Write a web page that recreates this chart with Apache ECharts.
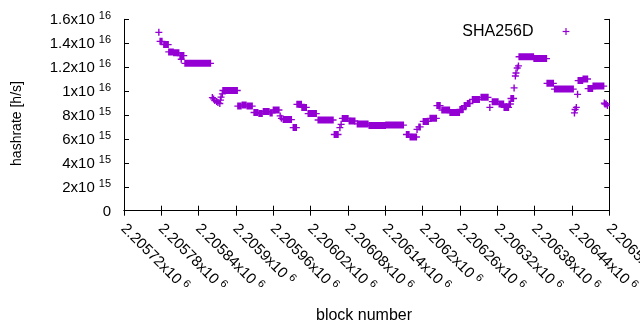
<!DOCTYPE html>
<html>
<head>
<meta charset="utf-8">
<script src="https://cdn.jsdelivr.net/npm/echarts@6/dist/echarts.min.js"></script>
<style>
html, body { margin: 0; padding: 0; background: #fff; }
#chart { width: 640px; height: 330px; }
</style>
</head>
<body>
<div id="chart"></div>
<script>
const chart = echarts.init(document.getElementById("chart"));

// runs of blocks that share the same hashrate estimate (a single point has start === end)
const runStart = [
    2205776, 2205778, 2205784, 2205792, 2205800, 2205810, 2205812, 2205818, 2205862, 2205864,
    2205866, 2205869, 2205871, 2205874, 2205875, 2205876, 2205878, 2205879, 2205903, 2205910,
    2205918, 2205929, 2205937, 2205944, 2205955, 2205960, 2205971, 2205973, 2205976, 2205992,
    2205998, 2206006, 2206016, 2206032, 2206058, 2206067, 2206069, 2206071, 2206082, 2206095,
    2206114, 2206141, 2206174, 2206180, 2206191, 2206194, 2206201, 2206212, 2206223, 2206231,
    2206244, 2206260, 2206267, 2206272, 2206280, 2206294, 2206308, 2206312, 2206323, 2206331,
    2206339, 2206342, 2206347, 2206349, 2206350, 2206352, 2206354, 2206355, 2206379, 2206400,
    2206412, 2206444, 2206445, 2206447, 2206449, 2206450, 2206458, 2206466, 2206474, 2206492,
    2206493, 2206497
];
const runEnd = [
    2205776, 2205781, 2205791, 2205799, 2205808, 2205816, 2205812, 2205859, 2205862, 2205864,
    2205866, 2205869, 2205871, 2205874, 2205875, 2205876, 2205878, 2205902, 2205908, 2205916,
    2205926, 2205935, 2205942, 2205953, 2205958, 2205969, 2205971, 2205973, 2205989, 2205997,
    2206005, 2206013, 2206029, 2206056, 2206064, 2206067, 2206069, 2206080, 2206091, 2206112,
    2206140, 2206169, 2206178, 2206190, 2206191, 2206196, 2206209, 2206222, 2206228, 2206243,
    2206259, 2206265, 2206270, 2206276, 2206291, 2206305, 2206308, 2206321, 2206330, 2206338,
    2206341, 2206346, 2206347, 2206349, 2206350, 2206352, 2206354, 2206378, 2206399, 2206410,
    2206442, 2206444, 2206445, 2206447, 2206449, 2206457, 2206465, 2206473, 2206491, 2206492,
    2206495, 2206497
];
const runValue = [
    14.91e15, 14.16e15, 13.89e15, 13.27e15, 13.20e15, 12.97e15, 12.66e15, 12.32e15, 9.46e15, 9.34e15,
    9.21e15, 9.13e15, 9.04e15, 8.96e15, 9.25e15, 9.50e15, 9.76e15, 10.05e15, 8.75e15, 8.84e15,
    8.75e15, 8.21e15, 8.12e15, 8.29e15, 8.17e15, 8.42e15, 7.92e15, 7.72e15, 7.62e15, 6.95e15,
    8.89e15, 8.63e15, 8.12e15, 7.58e15, 6.37e15, 6.94e15, 7.22e15, 7.71e15, 7.50e15, 7.25e15,
    7.12e15, 7.16e15, 6.37e15, 6.16e15, 6.79e15, 7.00e15, 7.46e15, 7.72e15, 8.79e15, 8.42e15,
    8.21e15, 8.46e15, 8.79e15, 8.96e15, 9.30e15, 9.48e15, 8.63e15, 9.11e15, 8.92e15, 8.63e15,
    8.92e15, 9.38e15, 10.26e15, 11.26e15, 11.51e15, 11.93e15, 12.10e15, 12.87e15, 12.72e15, 10.65e15,
    10.17e15, 8.17e15, 8.46e15, 8.63e15, 9.73e15, 10.88e15, 11.01e15, 10.21e15, 10.42e15, 9.00e15,
    8.92e15, 8.79e15
];

const seriesName = "SHA256D";
const xMin = 2205720, xMax = 2206500, xStep = 60;
const yMin = 0, yMax = 1.6e16, yStep = 2e15;

const COLOR = "#9400d3";
const FONT = "Liberation Sans";

// gnuplot style "1.2x10^16" labels
function sciLabel(v) {
    if (v === 0) return "{m|0}";
    const e = Math.floor(Math.log10(v) + 1e-9);
    const m = +(v / Math.pow(10, e)).toFixed(6);
    return "{m|" + m + "x10}{e|" + e + "}";
}

const rich = {
    m: { fontSize: 15, fontFamily: FONT, color: "#000", lineHeight: 17, verticalAlign: "bottom" },
    e: { fontSize: 11, fontFamily: FONT, color: "#000", lineHeight: 12, verticalAlign: "bottom", padding: [0, 0, 6, 4] }
};

const data = runStart.map((s, i) => [s, runEnd[i], runValue[i]]);

function renderPlus(params, api) {
    const a = api.coord([api.value(0), api.value(2)]);
    const b = api.coord([api.value(1), api.value(2)]);
    const style = { fill: COLOR };
    return {
        type: "group",
        children: [
            { type: "rect", shape: { x: a[0] - 0.7, y: a[1] - 3.5, width: b[0] - a[0] + 1.4, height: 7 }, style: style },
            { type: "rect", shape: { x: a[0] - 3.5, y: a[1] - 0.65, width: b[0] - a[0] + 7, height: 1.3 }, style: style }
        ]
    };
}

const axisLine = { show: true, lineStyle: { color: "#000", width: 1 } };
const axisTick = { show: true, inside: true, length: 5, lineStyle: { color: "#000", width: 1 } };

const option = {
    animation: false,
    grid: { left: 124, right: 30.7, top: 19.3, bottom: 119.3, containLabel: false, outerBoundsMode: "none" },
    xAxis: [
        {
            type: "value", position: "bottom", min: xMin, max: xMax, interval: xStep,
            axisLine: axisLine, axisTick: axisTick, splitLine: { show: false },
            axisLabel: { rotate: -45, margin: 15, formatter: sciLabel, rich: rich, hideOverlap: false }
        },
        {
            type: "value", position: "top", min: xMin, max: xMax, interval: xStep,
            axisLine: axisLine, axisTick: axisTick, splitLine: { show: false },
            axisLabel: { show: false }
        }
    ],
    yAxis: [
        {
            type: "value", position: "left", min: yMin, max: yMax, interval: yStep,
            axisLine: axisLine, axisTick: axisTick, splitLine: { show: false },
            axisLabel: { margin: 13, formatter: sciLabel, rich: rich }
        },
        {
            type: "value", position: "right", min: yMin, max: yMax, interval: yStep,
            axisLine: axisLine, axisTick: axisTick, splitLine: { show: false },
            axisLabel: { show: false }
        }
    ],
    graphic: [
        {
            type: "text", x: 17.5, y: 123.5, rotation: Math.PI / 2,
            style: { text: "hashrate [h/s]", font: "14px " + FONT, fill: "#000", align: "center", verticalAlign: "middle" }
        },
        {
            type: "text", x: 364, y: 316,
            style: { text: "block number", font: "16px " + FONT, fill: "#000", align: "center", verticalAlign: "middle" }
        },
        {
            type: "text", x: 533.5, y: 31.5,
            style: { text: seriesName, font: "16px " + FONT, fill: "#000", align: "right", verticalAlign: "middle" }
        },
        { type: "rect", shape: { x: 562.6, y: 30.9, width: 6.8, height: 1.2 }, style: { fill: COLOR } },
        { type: "rect", shape: { x: 565.4, y: 28.1, width: 1.2, height: 6.8 }, style: { fill: COLOR } }
    ],
    series: [
        {
            name: seriesName,
            type: "custom",
            renderItem: renderPlus,
            encode: { x: [0, 1], y: 2 },
            data: data,
            clip: true
        }
    ]
};

chart.setOption(option);
window.addEventListener("resize", () => chart.resize());
</script>
</body>
</html>
